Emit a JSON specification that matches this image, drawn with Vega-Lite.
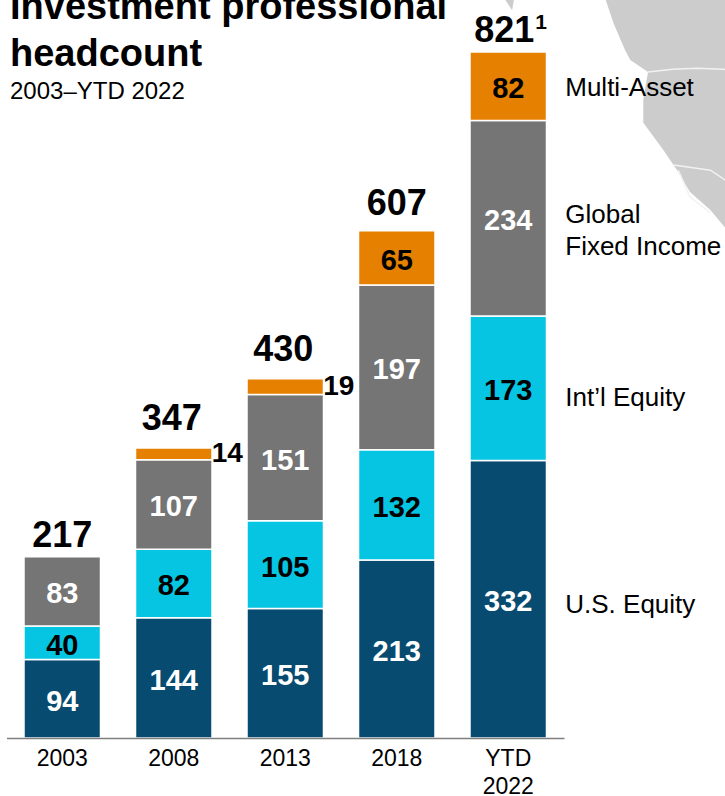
{
"$schema":"https://vega.github.io/schema/vega-lite/v6.json",
"width":725,"height":738,"padding":{"left":0,"top":0,"right":0,"bottom":58},"autosize":{"type":"none"},
"background":"white",
"config":{"view":{"stroke":null},"font":"Liberation Sans"},
"title":{"text":["Investment professional","headcount"],"subtitle":"2003–YTD 2022","anchor":"start","frame":"group","orient":"top","dx":10,"dy":104,"offset":0,"align":"left","font":"Liberation Sans","fontSize":38,"fontWeight":"bold","color":"#000000","lineHeight":47,"subtitleFont":"Liberation Sans","subtitleFontSize":24,"subtitleColor":"#000000","subtitlePadding":6},
"datasets":{
"segments":[
{"year":"2003","series":"U.S. Equity","rank":1,"value":94},
{"year":"2003","series":"Int'l Equity","rank":2,"value":40},
{"year":"2003","series":"Global Fixed Income","rank":3,"value":83},
{"year":"2008","series":"U.S. Equity","rank":1,"value":144},
{"year":"2008","series":"Int'l Equity","rank":2,"value":82},
{"year":"2008","series":"Global Fixed Income","rank":3,"value":107},
{"year":"2008","series":"Multi-Asset","rank":4,"value":14},
{"year":"2013","series":"U.S. Equity","rank":1,"value":155},
{"year":"2013","series":"Int'l Equity","rank":2,"value":105},
{"year":"2013","series":"Global Fixed Income","rank":3,"value":151},
{"year":"2013","series":"Multi-Asset","rank":4,"value":19},
{"year":"2018","series":"U.S. Equity","rank":1,"value":213},
{"year":"2018","series":"Int'l Equity","rank":2,"value":132},
{"year":"2018","series":"Global Fixed Income","rank":3,"value":197},
{"year":"2018","series":"Multi-Asset","rank":4,"value":65},
{"year":"YTD 2022","series":"U.S. Equity","rank":1,"value":332},
{"year":"YTD 2022","series":"Int'l Equity","rank":2,"value":173},
{"year":"YTD 2022","series":"Global Fixed Income","rank":3,"value":234},
{"year":"YTD 2022","series":"Multi-Asset","rank":4,"value":82}
],
"totals":[
{"year":"2003","total":217},
{"year":"2008","total":347},
{"year":"2013","total":430},
{"year":"2018","total":607},
{"year":"YTD 2022","total":821}
],
"keys":[
{"year":"YTD 2022","name":"Multi-Asset","pos":778},
{"year":"YTD 2022","name":"Global\nFixed Income","pos":626},
{"year":"YTD 2022","name":"Int’l Equity","pos":407},
{"year":"YTD 2022","name":"U.S. Equity","pos":159}
]
},
"layer":[
{
"data":{"values":[
{"type":"Feature","properties":{},"geometry":{"type":"Polygon","coordinates":[[[-133.5,60],[-100,60],[-100,15],[-105,19.9],[-108.5,23.8],[-113.2,27.5],[-116.2,31.9],[-119.4,35.8],[-124,40.7],[-124,44.6],[-122.9,49],[-127,50.8],[-128.2,52.2],[-130.9,55.9],[-133.5,60]]]}},
{"type":"Feature","properties":{},"geometry":{"type":"Polygon","coordinates":[[[-157.5,60],[-153.5,60],[-154.3,57.5],[-157.5,60]]]}}
]},
"projection":{"type":"mercator","scale":248,"translate":[1180,316]},
"mark":{"type":"geoshape","fill":"#CCCCCC","stroke":null}
},
{
"data":{"values":[
{"type":"Feature","properties":{},"geometry":{"type":"MultiLineString","coordinates":[[[-122.9,49],[-100,49]],[[-117,32.9],[-108.5,31.9],[-105,29.9]],[[-115.9,31.9],[-113.2,26.5],[-108.5,23.2]]]}}
]},
"projection":{"type":"mercator","scale":248,"translate":[1180,316]},
"mark":{"type":"geoshape","fill":null,"filled":false,"stroke":"#F2F2F2","strokeWidth":1.5}
},
{
"data":{"name":"segments"},
"mark":{"type":"bar","width":76.5,"stroke":"white","strokeWidth":1.5},
"encoding":{
"x":{"field":"year","type":"nominal","sort":null,"scale":{"range":[6.5,564],"paddingInner":0,"paddingOuter":0},"axis":{"title":null,"ticks":false,"labelAngle":0,"labelFontSize":23,"labelFont":"Liberation Sans","labelColor":"#000000","labelPadding":9,"labelLineHeight":28,"labelBaseline":"top","domainColor":"#7F7F7F","domainWidth":1.5,"zindex":1,"labelExpr":"datum.value == 'YTD 2022' ? ['YTD','2022'] : datum.label"}},
"y":{"field":"value","type":"quantitative","stack":"zero","scale":{"domain":[0,883.2],"nice":false},"axis":null},
"color":{"field":"series","type":"nominal","scale":{"domain":["U.S. Equity","Int'l Equity","Global Fixed Income","Multi-Asset"],"range":["#074C70","#06C5E2","#757575","#E68000"]},"legend":null},
"order":{"field":"rank","type":"quantitative"}
}
},
{
"data":{"name":"segments"},
"transform":[
{"stack":"value","groupby":["year"],"sort":[{"field":"rank"}],"as":["low","high"]},
{"calculate":"(datum.low+datum.high)/2","as":"mid"},
{"filter":"datum.value>=30"}
],
"mark":{"type":"text","fontSize":29,"fontWeight":"bold","font":"Liberation Sans","dy":3},
"encoding":{
"x":{"field":"year","type":"nominal","sort":null},
"y":{"field":"mid","type":"quantitative"},
"text":{"field":"value","type":"quantitative"},
"color":{"condition":{"test":"datum.series=='U.S. Equity'||datum.series=='Global Fixed Income'","value":"#FFFFFF"},"value":"#000000"}
}
},
{
"data":{"name":"segments"},
"transform":[
{"stack":"value","groupby":["year"],"sort":[{"field":"rank"}],"as":["low","high"]},
{"calculate":"(datum.low+datum.high)/2","as":"mid"},
{"filter":"datum.value<30"}
],
"mark":{"type":"text","fontSize":28,"fontWeight":"bold","font":"Liberation Sans","align":"left","dx":38,"color":"#000000"},
"encoding":{
"x":{"field":"year","type":"nominal","sort":null},
"y":{"field":"mid","type":"quantitative"},
"text":{"field":"value","type":"quantitative"}
}
},
{
"data":{"name":"totals"},
"transform":[{"filter":"datum.total==217"}],
"mark":{"type":"text","fontSize":36,"fontWeight":"bold","font":"Liberation Sans","baseline":"alphabetic","dy":-10,"color":"#000000"},
"encoding":{
"x":{"field":"year","type":"nominal","sort":null},
"y":{"field":"total","type":"quantitative"},
"text":{"field":"total","type":"quantitative"}
}
},
{
"data":{"name":"totals"},
"transform":[{"filter":"datum.total==347||datum.total==430"}],
"mark":{"type":"text","fontSize":36,"fontWeight":"bold","font":"Liberation Sans","baseline":"alphabetic","dy":-18,"dx":-2,"color":"#000000"},
"encoding":{
"x":{"field":"year","type":"nominal","sort":null},
"y":{"field":"total","type":"quantitative"},
"text":{"field":"total","type":"quantitative"}
}
},
{
"data":{"name":"totals"},
"transform":[{"filter":"datum.total==607"}],
"mark":{"type":"text","fontSize":36,"fontWeight":"bold","font":"Liberation Sans","baseline":"alphabetic","dy":-16,"color":"#000000"},
"encoding":{
"x":{"field":"year","type":"nominal","sort":null},
"y":{"field":"total","type":"quantitative"},
"text":{"field":"total","type":"quantitative"}
}
},
{
"data":{"name":"totals"},
"transform":[{"filter":"datum.total==821"}],
"mark":{"type":"text","fontSize":36,"fontWeight":"bold","font":"Liberation Sans","baseline":"alphabetic","dy":-10,"dx":-4,"color":"#000000"},
"encoding":{
"x":{"field":"year","type":"nominal","sort":null},
"y":{"field":"total","type":"quantitative"},
"text":{"field":"total","type":"quantitative"}
}
},
{
"data":{"values":[{"year":"YTD 2022","total":821,"note":"1"}]},
"mark":{"type":"text","fontSize":21,"fontWeight":"bold","font":"Liberation Sans","align":"left","baseline":"alphabetic","dx":27,"dy":-23,"color":"#000000"},
"encoding":{
"x":{"field":"year","type":"nominal","sort":null},
"y":{"field":"total","type":"quantitative"},
"text":{"field":"note"}
}
},
{
"data":{"name":"keys"},
"mark":{"type":"text","fontSize":26,"font":"Liberation Sans","align":"left","baseline":"middle","dx":57,"lineBreak":"\n","lineHeight":32,"color":"#000000"},
"encoding":{
"x":{"field":"year","type":"nominal","sort":null},
"y":{"field":"pos","type":"quantitative"},
"text":{"field":"name"}
}
}
]
}
